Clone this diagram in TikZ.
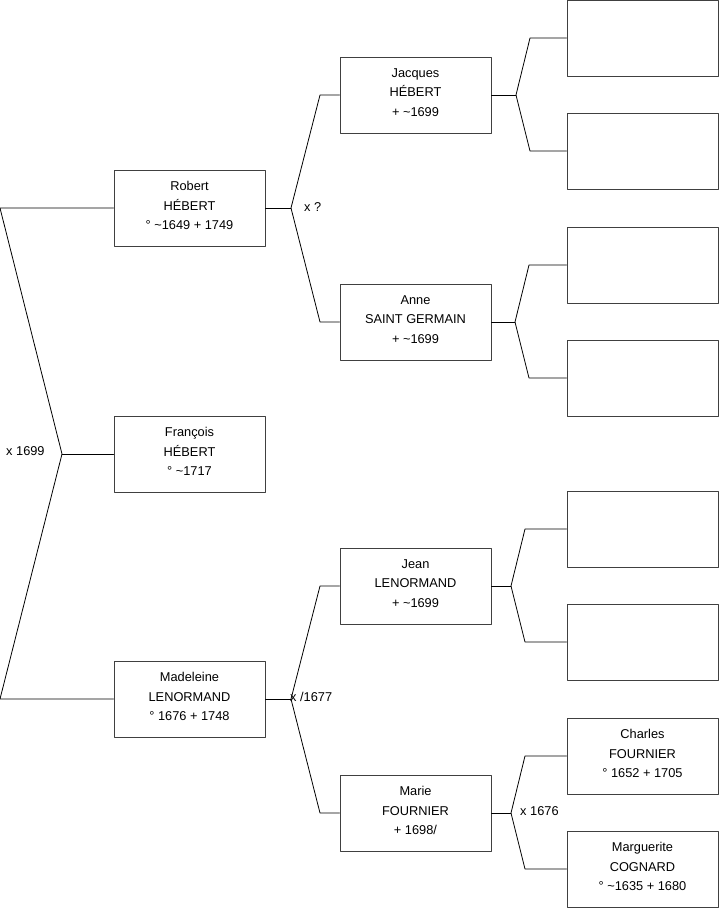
\documentclass[tikz,border=0pt]{standalone}
\usepackage{fontspec}
\setmainfont{Liberation Sans}
\begin{document}
\begin{tikzpicture}[x=1pt,y=-1pt,line cap=round,line join=round,
  person/.style={draw=black!75,line width=0.9pt,minimum width=151pt,minimum height=76pt,
    inner sep=0pt,text depth=5pt,align=center,font=\fontsize{12.8}{19.5}\selectfont},
  link/.style={line width=0.8pt},
  union/.style={anchor=west,inner sep=0pt,font=\fontsize{12.8}{14}\selectfont}]
  \useasboundingbox (0,0) rectangle (719,908);
  % first column
  \node[person] (rob) at (189.5,208) {Robert\\HÉBERT\\° \textasciitilde1649 + 1749};
  \node[person] (fra) at (189.5,454) {François\\HÉBERT\\° \textasciitilde1717};
  \node[person] (mad) at (189.5,699) {Madeleine\\LENORMAND\\° 1676 + 1748};
  % second column
  \node[person] (jac) at (415.5,95) {Jacques\\HÉBERT\\+ \textasciitilde1699};
  \node[person] (ann) at (415.5,322) {Anne\\SAINT GERMAIN\\+ \textasciitilde1699};
  \node[person] (jea) at (415.5,586) {Jean\\LENORMAND\\+ \textasciitilde1699};
  \node[person] (mar) at (415.5,813) {Marie\\FOURNIER\\+ 1698/};
  % third column
  \node[person] (e1) at (642.5,38) {};
  \node[person] (e2) at (642.5,151) {};
  \node[person] (e3) at (642.5,265) {};
  \node[person] (e4) at (642.5,378) {};
  \node[person] (e5) at (642.5,529) {};
  \node[person] (e6) at (642.5,642) {};
  \node[person] (cha) at (642.5,756) {Charles\\FOURNIER\\° 1652 + 1705};
  \node[person] (mgt) at (642.5,869) {Marguerite\\COGNARD\\° \textasciitilde1635 + 1680};
  % brackets
  \coordinate (u0) at (62,454);
  \coordinate (u0a) at (0,208);
  \coordinate (u0b) at (0,699);
  \draw[link] (rob.west) -- (u0a) -- (u0) -- (u0b) -- (mad.west);
  \draw[link] (u0) -- (fra.west);
  \node[union] at (6,451) {x 1699};

  \coordinate (u1) at (291,208);
  \coordinate (u1a) at (320,95);
  \coordinate (u1b) at (320,322);
  \draw[link] (rob.east) -- (u1);
  \draw[link] (jac.west) -- (u1a) -- (u1) -- (u1b) -- (ann.west);
  \node[union] at (304,207) {x ?};

  \coordinate (u2) at (291,699);
  \coordinate (u2a) at (320,586);
  \coordinate (u2b) at (320,813);
  \draw[link] (mad.east) -- (u2);
  \draw[link] (jea.west) -- (u2a) -- (u2) -- (u2b) -- (mar.west);
  \node[union] at (290,697) {x /1677};

  \coordinate (u3) at (516,95);
  \coordinate (u3a) at (530,38);
  \coordinate (u3b) at (530,151);
  \draw[link] (jac.east) -- (u3);
  \draw[link] (e1.west) -- (u3a) -- (u3) -- (u3b) -- (e2.west);

  \coordinate (u4) at (515,322);
  \coordinate (u4a) at (529,265);
  \coordinate (u4b) at (529,378);
  \draw[link] (ann.east) -- (u4);
  \draw[link] (e3.west) -- (u4a) -- (u4) -- (u4b) -- (e4.west);

  \coordinate (u5) at (511,586);
  \coordinate (u5a) at (525,529);
  \coordinate (u5b) at (525,642);
  \draw[link] (jea.east) -- (u5);
  \draw[link] (e5.west) -- (u5a) -- (u5) -- (u5b) -- (e6.west);

  \coordinate (u6) at (511,813);
  \coordinate (u6a) at (525,756);
  \coordinate (u6b) at (525,869);
  \draw[link] (mar.east) -- (u6);
  \draw[link] (cha.west) -- (u6a) -- (u6) -- (u6b) -- (mgt.west);
  \node[union] at (520,811) {x 1676};
\end{tikzpicture}
\end{document}
